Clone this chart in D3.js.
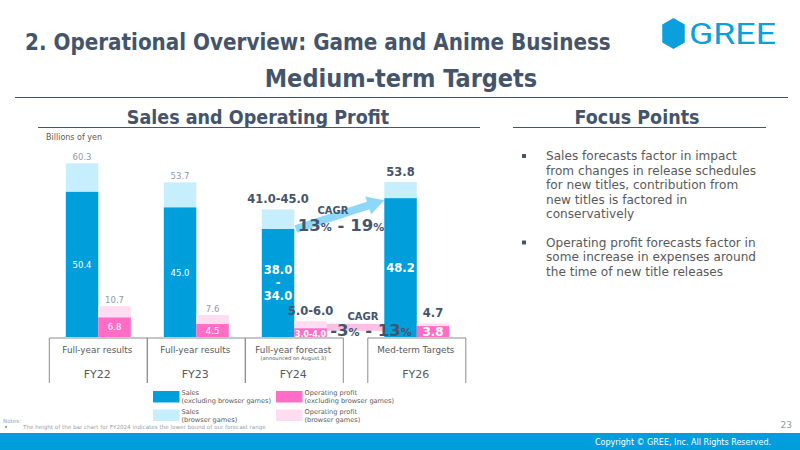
<!DOCTYPE html>
<html>
<head>
<meta charset="utf-8">
<script src="https://cdn.jsdelivr.net/npm/d3@7"></script>
<style>
  html, body { margin: 0; padding: 0; background: #fff; }
  svg { display: block; font-family: "DejaVu Sans", Verdana, sans-serif; }
  .cond { font-family: "DejaVu Sans Condensed", "DejaVu Sans", sans-serif; font-stretch: condensed; font-weight: bold; }
</style>
</head>
<body>
<script>
// data
const categories = ["FY22", "FY23", "FY24", "FY26"];
const periodLabels = ["Full-year results", "Full-year results", "Full-year forecast", "Med-term Targets"];
const periodNotes = ["", "", "(announced on August 3)", ""];
const salesCore = [50.4, 45.0, 37.5, 48.2];   // excluding browser games
const salesTotal = [60.3, 53.7, 44.3, 53.8];  // incl. browser games
const opCore = [6.8, 4.5, 3.0, 3.8];
const opTotal = [10.7, 7.6, 5.5, 4.7];
const salesTotalLabels = ["60.3", "53.7", "41.0-45.0", "53.8"];
const salesCoreLabels = [["50.4"], ["45.0"], ["38.0", "-", "34.0"], ["48.2"]];
const opTotalLabels = ["10.7", "7.6", "5.0-6.0", "4.7"];
const opCoreLabels = ["6.8", "4.5", "3.0-4.0", "3.8"];
const emphasis = [false, false, true, true];
const cagrSales = ["13", "19"];
const cagrOp = ["-3", "13"];
const focusPoints = [
  ["Sales forecasts factor in impact", "from changes in release schedules", "for new titles, contribution from", "new titles is factored in", "conservatively"],
  ["Operating profit forecasts factor in", "some  increase in expenses around", "the time of new title releases"]
];
const legendItems = [
  { key: "salesCore", lines: ["Sales", "(excluding browser games)"] },
  { key: "opCore", lines: ["Operating profit", "(excluding browser games)"] },
  { key: "salesBrowser", lines: ["Sales", "(browser games)"] },
  { key: "opBrowser", lines: ["Operating profit", "(browser games)"] }
];

const width = 800, height = 450;
const slate = "#44546A", gray = "#595959", lightGray = "#8C9AAB";
const color = d3.scaleOrdinal()
  .domain(["salesCore", "salesBrowser", "opCore", "opBrowser"])
  .range(["#009FDB", "#C7EEFC", "#FF6DC7", "#FFDDF1"]);

const svg = d3.select("body").append("svg").attr("width", width).attr("height", height);

// header
svg.append("text").attr("class", "cond").attr("x", 25).attr("y", 50)
  .attr("font-size", 22.2).attr("fill", slate)
  .text("2. Operational Overview: Game and Anime Business");

svg.append("path")
  .attr("d", "M673.5,19 L684,25 L684,42 L673.5,48 L663,42 L663,25 Z")
  .attr("fill", "#0BA0DB").attr("stroke", "#0BA0DB").attr("stroke-width", 1.5).attr("stroke-linejoin", "round");
svg.append("text").attr("x", 689).attr("y", 44)
  .attr("font-family", "Roboto, sans-serif").attr("font-size", 29)
  .attr("fill", "#0BA0DB").attr("textLength", 87).attr("lengthAdjust", "spacingAndGlyphs")
  .text("GREE");

svg.append("text").attr("class", "cond").attr("x", 401).attr("y", 87)
  .attr("text-anchor", "middle").attr("font-size", 25).attr("fill", slate)
  .text("Medium-term Targets");
svg.append("line").attr("x1", 15).attr("x2", 788).attr("y1", 97.5).attr("y2", 97.5)
  .attr("stroke", slate).attr("stroke-width", 1);

svg.append("text").attr("class", "cond").attr("x", 258).attr("y", 124)
  .attr("text-anchor", "middle").attr("font-size", 19.5).attr("fill", slate)
  .text("Sales and Operating Profit");
svg.append("line").attr("x1", 38).attr("x2", 480).attr("y1", 127.5).attr("y2", 127.5)
  .attr("stroke", slate).attr("stroke-width", 1);
svg.append("text").attr("class", "cond").attr("x", 637).attr("y", 124)
  .attr("text-anchor", "middle").attr("font-size", 19.5).attr("fill", slate)
  .text("Focus Points");
svg.append("line").attr("x1", 513).attr("x2", 766).attr("y1", 127.5).attr("y2", 127.5)
  .attr("stroke", slate).attr("stroke-width", 1);

svg.append("text").attr("x", 46).attr("y", 140).attr("font-size", 8).attr("fill", gray)
  .text("Billions of yen");

// scales
const slot = { FY22: 0, FY23: 1, FY24: 2, FY26: 3.25 };
const step = 98;
const x = d3.scaleLinear().domain([0, 1]).range([98.3, 98.3 + step]);
const cx = c => x(slot[c]);
const barW = 32.5;
const y = d3.scaleLinear().domain([0, 60]).range([337, 164.2]);

const rows = categories.map((c, i) => ({
  c, i, salesCore: salesCore[i], salesTotal: salesTotal[i], opCore: opCore[i], opTotal: opTotal[i]
}));

// arrows (behind bars)
function arrow(x0, y0, x1, y1, shaft, head, headLen, fill) {
  const ang = Math.atan2(y1 - y0, x1 - x0);
  const len = Math.hypot(x1 - x0, y1 - y0);
  const pts = [[0, -shaft], [len - headLen, -shaft], [len - headLen, -head], [len, 0],
    [len - headLen, head], [len - headLen, shaft], [0, shaft]];
  svg.append("polygon")
    .attr("points", pts.map(p => p.join(",")).join(" "))
    .attr("transform", `translate(${x0},${y0}) rotate(${ang * 180 / Math.PI})`)
    .attr("fill", fill);
}
arrow(cx("FY24") + 1.5, y(salesCore[2]), cx("FY26") - barW, y(47.5), 4, 9.5, 17, "#8DD8F8");
arrow(cx("FY24"), y(3.4), cx("FY26"), y(3.4), 3.5, 10, 19, "#FFBFE5");

const g = svg.append("g");
// sales stacked bars
g.selectAll("rect.sb").data(rows).join("rect").attr("class", "sb")
  .attr("x", d => cx(d.c) - barW).attr("width", barW)
  .attr("y", d => y(d.salesTotal)).attr("height", d => y(d.salesCore) - y(d.salesTotal))
  .attr("fill", color("salesBrowser"));
g.selectAll("rect.sc").data(rows).join("rect").attr("class", "sc")
  .attr("x", d => cx(d.c) - barW).attr("width", barW)
  .attr("y", d => y(d.salesCore)).attr("height", d => y(0) - y(d.salesCore))
  .attr("fill", color("salesCore"));
// operating profit stacked bars
g.selectAll("rect.ob").data(rows).join("rect").attr("class", "ob")
  .attr("x", d => cx(d.c)).attr("width", barW)
  .attr("y", d => y(d.opTotal)).attr("height", d => y(d.opCore) - y(d.opTotal))
  .attr("fill", color("opBrowser"));
g.selectAll("rect.oc").data(rows).join("rect").attr("class", "oc")
  .attr("x", d => cx(d.c)).attr("width", barW)
  .attr("y", d => y(d.opCore)).attr("height", d => y(0) - y(d.opCore))
  .attr("fill", color("opCore"));

// value labels
const lab = svg.append("g").attr("text-anchor", "middle");
rows.forEach(d => {
  const big = emphasis[d.i];
  const sx = cx(d.c) - barW / 2, ox = cx(d.c) + barW / 2;
  lab.append("text").attr("x", sx).attr("y", y(d.salesTotal) - (big ? 6 : 3))
    .attr("font-size", big ? 11.5 : 8.5).attr("font-weight", big ? "bold" : "normal")
    .attr("fill", big ? slate : lightGray).text(salesTotalLabels[d.i]);
  lab.append("text").attr("x", ox).attr("y", y(d.opTotal) - (big ? 6 : 3))
    .attr("font-size", big ? 11.5 : 8.5).attr("font-weight", big ? "bold" : "normal")
    .attr("fill", big ? slate : lightGray).text(opTotalLabels[d.i]);
  const lines = salesCoreLabels[d.i];
  const mid = (y(d.salesCore) + y(0)) / 2;
  const lh = 13;
  lines.forEach((t, k) => {
    lab.append("text").attr("x", sx).attr("y", mid + (k - (lines.length - 1) / 2) * lh + 4)
      .attr("font-size", big ? 11.5 : 8.5).attr("font-weight", big ? "bold" : "normal")
      .attr("fill", "#fff").text(t);
  });
  const omid = (y(d.opCore) + y(0)) / 2;
  const small = opCoreLabels[d.i].length > 4;
  lab.append("text").attr("x", ox).attr("y", omid + (big ? 4 : 3))
    .attr("font-size", big ? (small ? 9 : 12) : 8.5).attr("font-weight", big ? "bold" : "normal")
    .attr("fill", "#fff").attr("textLength", small ? 31 : null).attr("lengthAdjust", "spacingAndGlyphs")
    .text(opCoreLabels[d.i]);
});

// CAGR labels
function cagr(xc, yTop, pair) {
  lab.append("text").attr("x", xc - 8).attr("y", yTop).attr("font-size", 10).attr("font-weight", "bold")
    .attr("fill", slate).text("CAGR");
  const t = lab.append("text").attr("x", xc).attr("y", yTop + 16.5).attr("font-weight", "bold").attr("fill", slate);
  t.append("tspan").attr("font-size", 16.5).text(pair[0]);
  t.append("tspan").attr("font-size", 11).text("%");
  t.append("tspan").attr("font-size", 16.5).text(" - " + pair[1]);
  t.append("tspan").attr("font-size", 11).text("%");
}
cagr(341, 214, cagrSales);
cagr(371, 319.5, cagrOp);

// category boxes below the baseline
const boxTop = 338, boxBot = 383;
const bx = svg.append("g");
const groups = [["FY22", "FY24"], ["FY26", "FY26"]];
groups.forEach(([a, b]) => {
  bx.append("line").attr("x1", cx(a) - step / 2).attr("x2", cx(b) + step / 2)
    .attr("y1", boxTop).attr("y2", boxTop).attr("stroke", "#8c8c8c");
});
rows.forEach(d => {
  [cx(d.c) - step / 2, cx(d.c) + step / 2].forEach(v =>
    bx.append("line").attr("x1", v).attr("x2", v).attr("y1", boxTop).attr("y2", boxBot).attr("stroke", "#8c8c8c"));
  bx.append("text").attr("x", cx(d.c) - 1).attr("y", 353).attr("text-anchor", "middle")
    .attr("font-size", 8.8).attr("fill", gray).text(periodLabels[d.i]);
  if (periodNotes[d.i]) bx.append("text").attr("x", cx(d.c) - 1).attr("y", 360).attr("text-anchor", "middle")
    .attr("font-size", 5.2).attr("fill", gray).text(periodNotes[d.i]);
  bx.append("text").attr("x", cx(d.c) - 1).attr("y", 378).attr("text-anchor", "middle")
    .attr("font-size", 11).attr("fill", gray).text(d.c);
});

// legend
const lg = svg.append("g");
legendItems.forEach((it, k) => {
  const lx = k % 2 === 0 ? 153 : 276, ly = k < 2 ? 391 : 409.5;
  lg.append("rect").attr("x", lx).attr("y", ly).attr("width", 26.5).attr("height", 11.5)
    .attr("fill", color(it.key));
  it.lines.forEach((t, j) => lg.append("text").attr("x", lx + 28.5).attr("y", ly + 4 + j * 8)
    .attr("font-size", 6.6).attr("fill", gray).text(t));
});

// focus points
const fp = svg.append("g").attr("fill", gray);
let fy = 160;
focusPoints.forEach(lines => {
  fp.append("rect").attr("x", 522).attr("y", fy - 6).attr("width", 4).attr("height", 4).attr("fill", slate);
  lines.forEach((t, j) => fp.append("text").attr("x", 546).attr("y", fy + j * 14.5)
    .attr("font-size", 12.1).text(t));
  fy += lines.length * 14.5 + 14;
});

// notes and footer
svg.append("text").attr("x", 3).attr("y", 423).attr("font-size", 5.6).attr("fill", "#98a2ad").text("Notes:");
svg.append("rect").attr("x", 5).attr("y", 426).attr("width", 2).attr("height", 2).attr("fill", "#98a2ad");
svg.append("text").attr("x", 23).attr("y", 429).attr("font-size", 5.6).attr("fill", "#98a2ad")
  .text("The height of the bar chart for FY2024 indicates the lower bound of our forecast range");
svg.append("text").attr("x", 792).attr("y", 428).attr("text-anchor", "end").attr("font-size", 9)
  .attr("fill", "#8C9AAB").text("23");
svg.append("rect").attr("x", 0).attr("y", 433).attr("width", width).attr("height", 17).attr("fill", "#009FDB");
svg.append("text").attr("x", 771).attr("y", 445).attr("text-anchor", "end").attr("font-size", 8)
  .attr("fill", "#fff").text("Copyright © GREE, Inc. All Rights Reserved.");
</script>
</body>
</html>
